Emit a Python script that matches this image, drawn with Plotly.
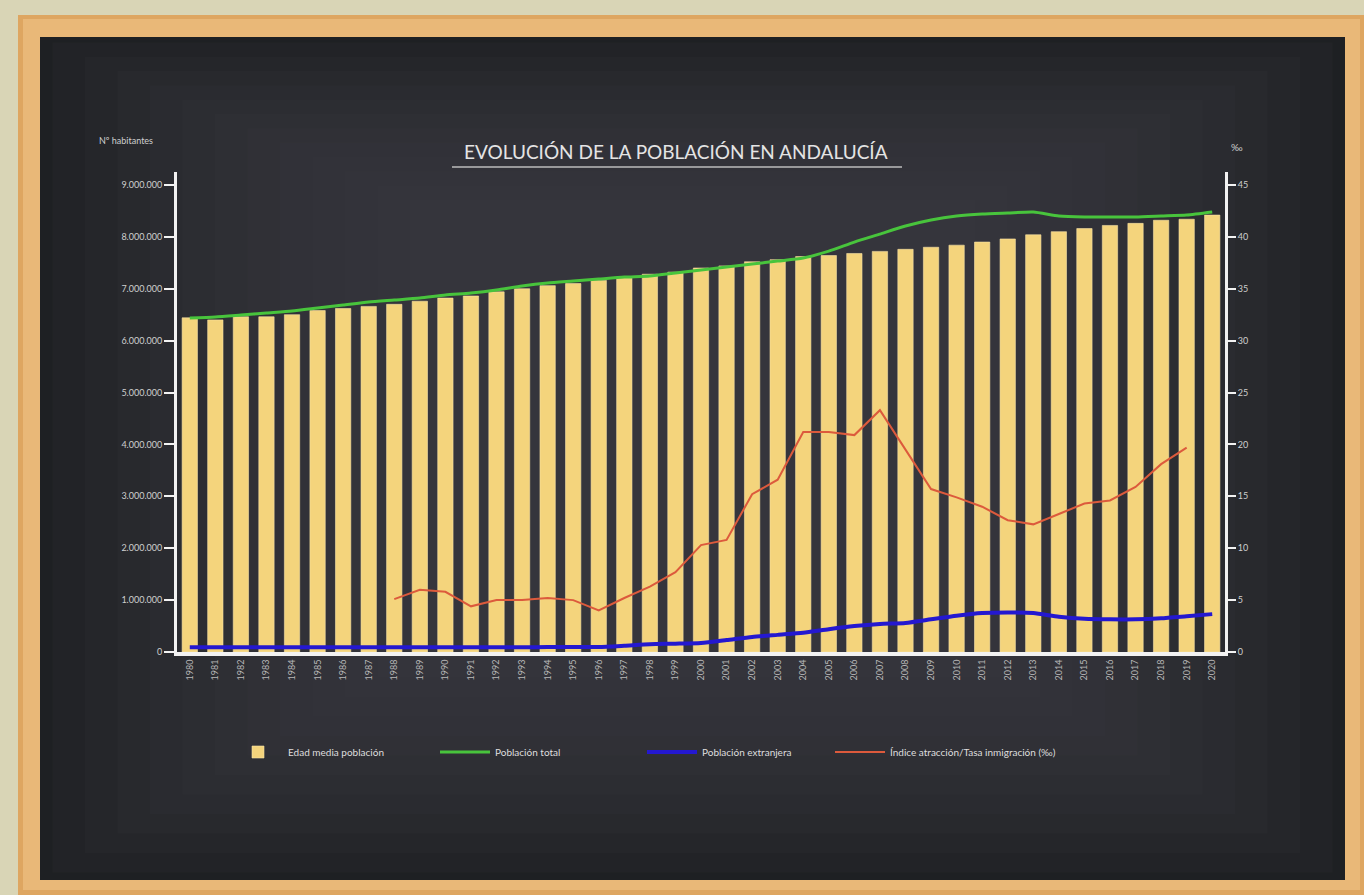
import plotly.graph_objects as go

# ---------------- data ----------------
years = ["1980", "1981", "1982", "1983", "1984", "1985", "1986", "1987", "1988", "1989",
         "1990", "1991", "1992", "1993", "1994", "1995", "1996", "1997", "1998", "1999",
         "2000", "2001", "2002", "2003", "2004", "2005", "2006", "2007", "2008", "2009",
         "2010", "2011", "2012", "2013", "2014", "2015", "2016", "2017", "2018", "2019",
         "2020"]

edad_media = [32.2, 32.0, 32.3, 32.3, 32.5, 32.9, 33.1, 33.3, 33.5, 33.8,
              34.1, 34.3, 34.7, 35.0, 35.3, 35.5, 35.8, 36.1, 36.4, 36.6,
              37.0, 37.2, 37.6, 37.8, 38.1, 38.2, 38.4, 38.6, 38.8, 39.0,
              39.2, 39.5, 39.8, 40.2, 40.5, 40.8, 41.1, 41.3, 41.6, 41.7,
              42.1]

poblacion_total = [6435000, 6455000, 6493000, 6532000, 6570000, 6628000, 6686000, 6744000, 6782000, 6821000,
                   6879000, 6917000, 6975000, 7052000, 7110000, 7148000, 7187000, 7225000, 7245000, 7303000,
                   7360000, 7418000, 7476000, 7534000, 7592000, 7726000, 7900000, 8054000, 8208000, 8324000,
                   8401000, 8439000, 8459000, 8478000, 8401000, 8382000, 8382000, 8382000, 8401000, 8420000,
                   8478000]

poblacion_extranjera = [90000, 90000, 90000, 90000, 90000, 90000, 90000, 90000, 92000, 92000,
                        92000, 92000, 92000, 92000, 95000, 95000, 95000, 120000, 150000, 160000,
                        175000, 230000, 290000, 330000, 370000, 440000, 500000, 540000, 560000, 630000,
                        700000, 750000, 760000, 750000, 680000, 640000, 630000, 630000, 650000, 690000,
                        730000]

indice_atraccion = [None, None, None, None, None, None, None, None, 5.1, 6.0,
                    5.8, 4.4, 5.0, 5.0, 5.2, 5.0, 4.0, 5.2, 6.3, 7.7,
                    10.3, 10.8, 15.2, 16.6, 21.2, 21.2, 20.9, 23.3, 19.5, 15.7,
                    14.9, 14.0, 12.7, 12.3, 13.3, 14.3, 14.6, 15.9, 18.1, 19.7,
                    None]

left_tick_vals = [0, 1000000, 2000000, 3000000, 4000000, 5000000, 6000000, 7000000, 8000000, 9000000]
right_tick_vals = [0, 5, 10, 15, 20, 25, 30, 35, 40, 45]

# ---------------- layout helpers ----------------
W, H = 1364, 895
ML, MR, MT, MB = 177, 139, 172, 243
PW = W - ML - MR
PH = H - MT - MB


def px(x):
    return (x - ML) / PW


def py(y):
    return (H - MB - y) / PH


CHALK = "#e4e4e4"
TICK = "#cfcfcf"
FONT = "Lato"
LEGEND_FONT = dict(family=FONT, size=10, color="#dedede")

fig = go.Figure()

fig.add_trace(go.Bar(
    x=years, y=edad_media, name="Edad media población",
    marker=dict(color="#f4d47c", line=dict(color="#f8e3a6", width=0.6)),
    yaxis="y", legend="legend",
))
fig.add_trace(go.Scatter(
    x=years, y=poblacion_total, name="Población total", mode="lines",
    line=dict(color="#48c43c", width=3, shape="spline", smoothing=0.6),
    yaxis="y2", legend="legend",
))
fig.add_trace(go.Scatter(
    x=years, y=poblacion_extranjera, name="Población extranjera", mode="lines",
    line=dict(color="#2418d0", width=4, shape="spline", smoothing=0.6),
    yaxis="y2", legend="legend",
))
fig.add_trace(go.Scatter(
    x=years, y=indice_atraccion, name="Índice atracción/Tasa inmigración (‰)", mode="lines",
    line=dict(color="#dc5a3c", width=2),
    yaxis="y", legend="legend2",
))

shapes = []
# wooden frame
shapes.append(dict(type="rect", xref="paper", yref="paper", layer="below",
                   x0=px(18), x1=px(1366), y0=py(897), y1=py(15),
                   fillcolor="#dea661", line=dict(width=0)))
shapes.append(dict(type="rect", xref="paper", yref="paper", layer="below",
                   x0=px(23), x1=px(1360), y0=py(890), y1=py(19),
                   fillcolor="#e9b878", line=dict(width=0)))
# chalkboard
shapes.append(dict(type="rect", xref="paper", yref="paper", layer="below",
                   x0=px(40), x1=px(1345), y0=py(880), y1=py(37),
                   fillcolor="#1e2023", line=dict(width=0)))
# soft glow towards the centre
for k in range(12):
    inset = 10 + k * 26
    shapes.append(dict(type="rect", xref="paper", yref="paper", layer="below",
                       x0=px(40 + inset * 1.25), x1=px(1345 - inset * 1.25),
                       y0=py(880 - inset * 0.75), y1=py(37 + inset * 0.55),
                       fillcolor="#3c3f44", opacity=0.13, line=dict(width=0)))
# title underline
shapes.append(dict(type="line", xref="paper", yref="paper",
                   x0=px(452), x1=px(902), y0=py(167), y1=py(167),
                   line=dict(color="#bdbdbd", width=1.5)))

annotations = [
    dict(text="EVOLUCIÓN DE LA POBLACIÓN EN ANDALUCÍA", xref="paper", yref="paper",
         x=px(676), y=py(152), xanchor="center", yanchor="middle", showarrow=False,
         font=dict(family=FONT, size=19, color=CHALK)),
    dict(text="Nº habitantes", xref="paper", yref="paper",
         x=px(97), y=py(140), xanchor="left", yanchor="middle", showarrow=False,
         font=dict(family=FONT, size=9, color=TICK)),
    dict(text="‰", xref="paper", yref="paper",
         x=px(1237), y=py(147), xanchor="center", yanchor="middle", showarrow=False,
         font=dict(family=FONT, size=10, color=TICK)),
]

fig.update_layout(
    width=W, height=H,
    margin=dict(l=ML, r=MR, t=MT, b=MB),
    paper_bgcolor="#d9d5b6",
    plot_bgcolor="rgba(0,0,0,0)",
    separators=",.",
    font=dict(family=FONT, color=TICK),
    bargap=0.4,
    showlegend=True,
    legend=dict(orientation="h", x=px(228), y=py(752), xanchor="left", yanchor="middle",
                bgcolor="rgba(0,0,0,0)", font=LEGEND_FONT,
                entrywidth=142, entrywidthmode="pixels", itemwidth=50),
    legend2=dict(orientation="h", x=px(830), y=py(752), xanchor="left", yanchor="middle",
                 bgcolor="rgba(0,0,0,0)", font=LEGEND_FONT, itemwidth=50),
    xaxis=dict(
        type="category", range=[-0.5, len(years) - 0.5],
        showline=True, linecolor="#f2f2f2", linewidth=4,
        showgrid=False, zeroline=False, ticks="",
        tickangle=-90, tickfont=dict(family=FONT, size=9, color="#b8b8b8"),
    ),
    yaxis=dict(
        side="right", range=[0, 46.25], tickvals=right_tick_vals,
        showline=True, linecolor="#f2f2f2", linewidth=3,
        ticks="outside", ticklen=8, tickwidth=2, tickcolor="#f2f2f2",
        showgrid=False, zeroline=False,
        tickfont=dict(family=FONT, size=9, color=TICK),
    ),
    yaxis2=dict(
        side="left", overlaying="y", anchor="x", range=[0, 9250000],
        tickvals=left_tick_vals, tickformat=",.0f",
        showline=True, linecolor="#f2f2f2", linewidth=3,
        ticks="outside", ticklen=10, tickwidth=2, tickcolor="#f2f2f2",
        showgrid=False, zeroline=False,
        tickfont=dict(family=FONT, size=9, color=TICK),
    ),
    shapes=shapes,
    annotations=annotations,
)

fig.write_html(
    "out.html",
    config={"displayModeBar": False},
    post_script="document.body.style.margin='0';document.body.style.overflow='hidden';"
                "document.body.style.background='#d9d5b6';",
)
